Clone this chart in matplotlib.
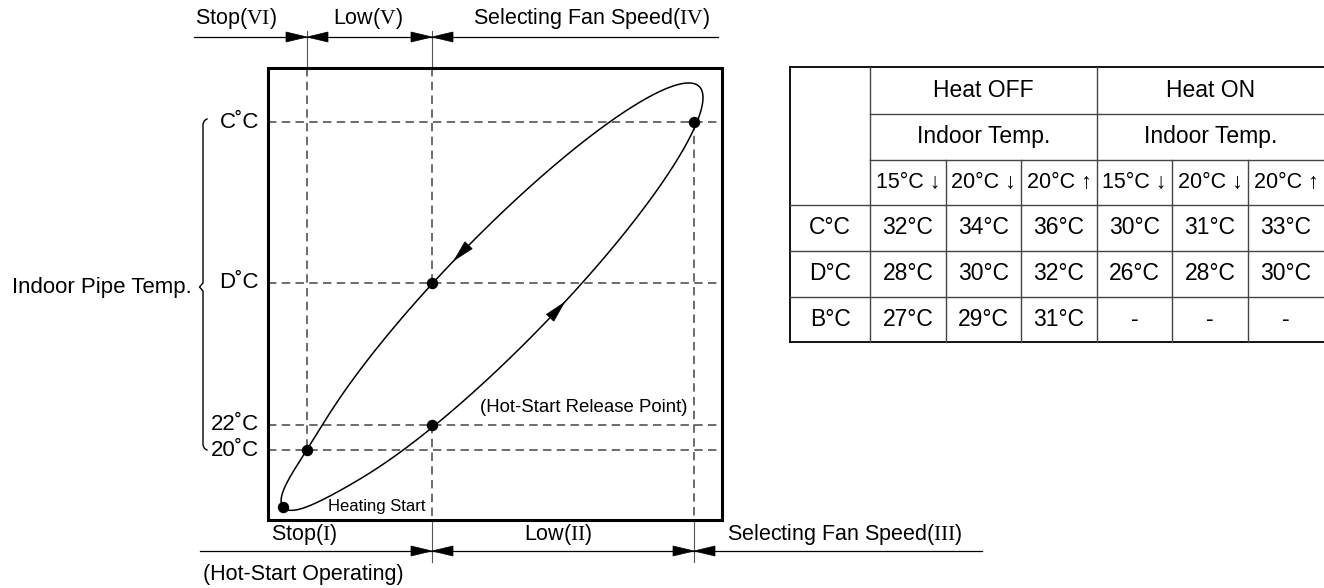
import numpy as np
import matplotlib
matplotlib.use('Agg')
import matplotlib.pyplot as plt
from matplotlib.patches import Polygon, Rectangle

plt.rcParams['font.family'] = ['Liberation Sans', 'DejaVu Sans']
plt.rcParams['mathtext.fontset'] = 'custom'
plt.rcParams['mathtext.rm'] = 'Liberation Serif'

# pipe temperature levels on the left side (chart rows)
level_labels = ['C˚C', 'D˚C', '22˚C', '20˚C']
level_y = [122, 283, 425, 450]

# fan speed zones above and below the chart
top_bounds = [307, 432]
top_zones = ['Stop($\\mathrm{VI}$)', 'Low($\\mathrm{V}$)', 'Selecting Fan Speed($\\mathrm{IV}$)']
top_zone_x = [236, 368, 592]
bottom_bounds = [432, 694]
bottom_zones = ['Stop($\\mathrm{I}$)', 'Low($\\mathrm{II}$)', 'Selecting Fan Speed($\\mathrm{III}$)']
bottom_zone_x = [304, 558, 845]

# marked points on the loop (boundary x, level y); heating start separately
pts_x = [694, 432, 432, 307]
pts_y = [122, 283, 425, 450]
start_x, start_y = 283, 507

# extra outline points
loop_x = [333, 370, 490, 567, 677, 703, 706, 706, 701, 690, 673, 640, 463, 357, 322]
loop_y = [495, 473, 380, 304, 155, 104, 92, 84, 77, 79, 87, 105, 252, 380, 430]

# table
heat_groups = ['Heat OFF', 'Heat ON']
sub_headers = ['15°C ↓', '20°C ↓', '20°C ↑', '15°C ↓', '20°C ↓', '20°C ↑']
row_names = ['C°C', 'D°C', 'B°C']
c_vals = ['32°C', '34°C', '36°C', '30°C', '31°C', '33°C']
d_vals = ['28°C', '30°C', '32°C', '26°C', '28°C', '30°C']
b_vals = ['27°C', '29°C', '31°C', '-', '-', '-']

fig = plt.figure(figsize=(13.24, 5.88), dpi=100)
ax = fig.add_axes([0, 0, 1, 1])
ax.set_xlim(0, 1324)
ax.set_ylim(588, 0)
ax.axis('off')

box_l, box_r, box_t, box_b = 268, 722, 68, 520
ax.add_patch(Rectangle((box_l, box_t), box_r - box_l, box_b - box_t,
                       fill=False, lw=2.2, ec='black', zorder=5))

dash = dict(color='#444444', lw=1.1, dashes=(5.5, 3.5))
thin = dict(color='#555555', lw=0.8)

# horizontal guide lines
for y in level_y:
    ax.plot([box_l, box_r], [y, y], **dash)

# vertical guide lines
ax.plot([307, 307], [box_t, 450], **dash)
ax.plot([432, 432], [box_t, 283], **dash)
ax.plot([432, 432], [425, box_b], **dash)
ax.plot([694, 694], [122, box_b], **dash)
for xb in top_bounds:
    ax.plot([xb, xb], [31, box_t], **thin)
for xb in bottom_bounds:
    ax.plot([xb, xb], [box_b, 562], **thin)


def head(tip, d, length=21, half=5):
    d = np.asarray(d, float)
    d = d / np.hypot(*d)
    n = np.array([-d[1], d[0]])
    tip = np.asarray(tip, float)
    base = tip - d * length
    ax.add_patch(Polygon([tip, base + n * half, base - n * half],
                         closed=True, fc='black', ec='black', lw=0.5, zorder=6))


# top zone line
ax.plot([194, 718], [37, 37], color='black', lw=0.9)
for xb in top_bounds:
    head((xb, 37), (1, 0))
    head((xb, 37), (-1, 0))
for lab, x in zip(top_zones, top_zone_x):
    ax.text(x, 24, lab, ha='center', va='baseline', fontsize=15.5)

# bottom zone line
ax.plot([200, 982], [551, 551], color='black', lw=0.9)
for xb in bottom_bounds:
    head((xb, 551), (1, 0))
    head((xb, 551), (-1, 0))
for lab, x in zip(bottom_zones, bottom_zone_x):
    ax.text(x, 540, lab, ha='center', va='baseline', fontsize=15.5)
ax.text(303, 580, '(Hot-Start Operating)', ha='center', va='baseline', fontsize=15.5)

# left labels and brace
for lab, y in zip(level_labels, level_y):
    ax.text(259, y, lab, ha='right', va='center', fontsize=16)
ax.text(192, 287, 'Indoor Pipe Temp.', ha='right', va='center', fontsize=16)
brace_x = [207, 204.5, 203, 203, 199.5, 203, 203, 204.5, 207]
brace_y = [119, 120.5, 124, 283, 287, 291, 445, 448.5, 450]
ax.plot(brace_x, brace_y, color='black', lw=1.0)

# loop, step 1: least-squares ellipse through the dots and outline points
lx = np.array(pts_x * 3 + loop_x, float)
ly = np.array(pts_y * 3 + loop_y, float)
mx, my = lx.mean(), ly.mean()
u = (lx - mx) / 100
v = (ly - my) / 100
D1 = np.column_stack([u * u, u * v, v * v])
D2 = np.column_stack([u, v, np.ones_like(u)])
S1, S2, S3 = D1.T @ D1, D1.T @ D2, D2.T @ D2
T = -np.linalg.solve(S3, S2.T)
Mr = S1 + S2 @ T
Mr = np.array([Mr[2] / 2, -Mr[1], Mr[0] / 2])
w, vec = np.linalg.eig(Mr)
vec = np.real(vec)
cond = 4 * vec[0] * vec[2] - vec[1] ** 2
a1 = vec[:, cond > 0][:, 0]
a, b, c = a1
d, e, f = T @ a1
M = np.array([[a, b / 2], [b / 2, c]])
g = np.array([d, e])
p0 = -0.5 * np.linalg.solve(M, g)
k = -(f + 0.5 * g @ p0)
lam, V = np.linalg.eigh(M)
s = np.sqrt(k / lam)
t = np.linspace(0, 2 * np.pi, 1440, endpoint=False)
q = V @ np.vstack([s[0] * np.cos(t), s[1] * np.sin(t)])
ex = q[0] * 100 + p0[0] * 100 + mx
ey = q[1] * 100 + p0[1] * 100 + my

# step 2: smoothly pull the lower-left end of the ellipse to the heating start
i0 = np.argmin(np.hypot(ex - start_x, ey - start_y))
ex, ey = np.roll(ex, -i0), np.roll(ey, -i0)
shift = np.array([start_x - ex[0], start_y - ey[0]])
seg = np.hypot(np.diff(ex, append=ex[0]), np.diff(ey, append=ey[0]))
arc = np.concatenate([[0], np.cumsum(seg)[:-1]])
arc = np.minimum(arc, seg.sum() - arc)
wgt = np.exp(-0.5 * (arc / 26) ** 2)
ex = ex + wgt * shift[0]
ey = ey + wgt * shift[1]
ex, ey = np.append(ex, ex[0]), np.append(ey, ey[0])
# travel direction: rising along the lower branch (negative shoelace area)
if np.sum(ex[:-1] * ey[1:] - ex[1:] * ey[:-1]) > 0:
    ex, ey = ex[::-1], ey[::-1]

ax.plot(ex, ey, color='black', lw=1.1, zorder=4)
ax.plot(pts_x + [start_x], pts_y + [start_y], 'o', color='black', ms=7.2, zorder=7)


def arrow_on_loop(x, y):
    i = np.argmin((ex - x) ** 2 + (ey - y) ** 2)
    j0, j1 = max(i - 4, 0), min(i + 4, len(ex) - 1)
    head((ex[i], ey[i]), (ex[j1] - ex[j0], ey[j1] - ey[j0]))


arrow_on_loop(567, 304)
arrow_on_loop(455, 262)

ax.text(426, 507, 'Heating Start', ha='right', va='center', fontsize=12)
ax.text(688, 408, '(Hot-Start Release Point)', ha='right', va='center', fontsize=13.4)

# table
col_x = [790, 870, 946, 1021, 1097, 1172, 1248, 1324]
row_y = [67, 114, 160, 205, 251, 297, 342]
outer = dict(color='black', lw=1.3)
inner = dict(color='#444444', lw=1.0)
ax.plot([col_x[0], col_x[-1]], [row_y[0], row_y[0]], **outer)
ax.plot([col_x[0], col_x[-1]], [row_y[-1], row_y[-1]], **outer)
ax.plot([col_x[0], col_x[0]], [row_y[0], row_y[-1]], **outer)
ax.plot([col_x[1], col_x[1]], [row_y[0], row_y[-1]], **inner)
ax.plot([col_x[4], col_x[4]], [row_y[0], row_y[-1]], **inner)
for y in row_y[1:3]:
    ax.plot([col_x[1], col_x[-1]], [y, y], **inner)
for y in row_y[3:6]:
    ax.plot([col_x[0], col_x[-1]], [y, y], **inner)
for x in col_x[2:4] + col_x[5:7]:
    ax.plot([x, x], [row_y[2], row_y[-1]], **inner)

fs = 16.5
for gi, lab in enumerate(heat_groups):
    xc = (col_x[1 + 3 * gi] + col_x[4 + 3 * gi]) / 2
    ax.text(xc, (row_y[0] + row_y[1]) / 2, lab, ha='center', va='center', fontsize=fs)
    ax.text(xc, (row_y[1] + row_y[2]) / 2, 'Indoor Temp.', ha='center', va='center', fontsize=fs)
for ci, lab in enumerate(sub_headers):
    xc = (col_x[1 + ci] + col_x[2 + ci]) / 2
    ax.text(xc, (row_y[2] + row_y[3]) / 2, lab, ha='center', va='center', fontsize=15.5)
for ri, (name, vals) in enumerate(zip(row_names, [c_vals, d_vals, b_vals])):
    yc = (row_y[3 + ri] + row_y[4 + ri]) / 2
    ax.text((col_x[0] + col_x[1]) / 2, yc, name, ha='center', va='center', fontsize=fs)
    for ci, val in enumerate(vals):
        xc = (col_x[1 + ci] + col_x[2 + ci]) / 2
        ax.text(xc, yc, val, ha='center', va='center', fontsize=fs)

fig.savefig('out.png', dpi=100)
